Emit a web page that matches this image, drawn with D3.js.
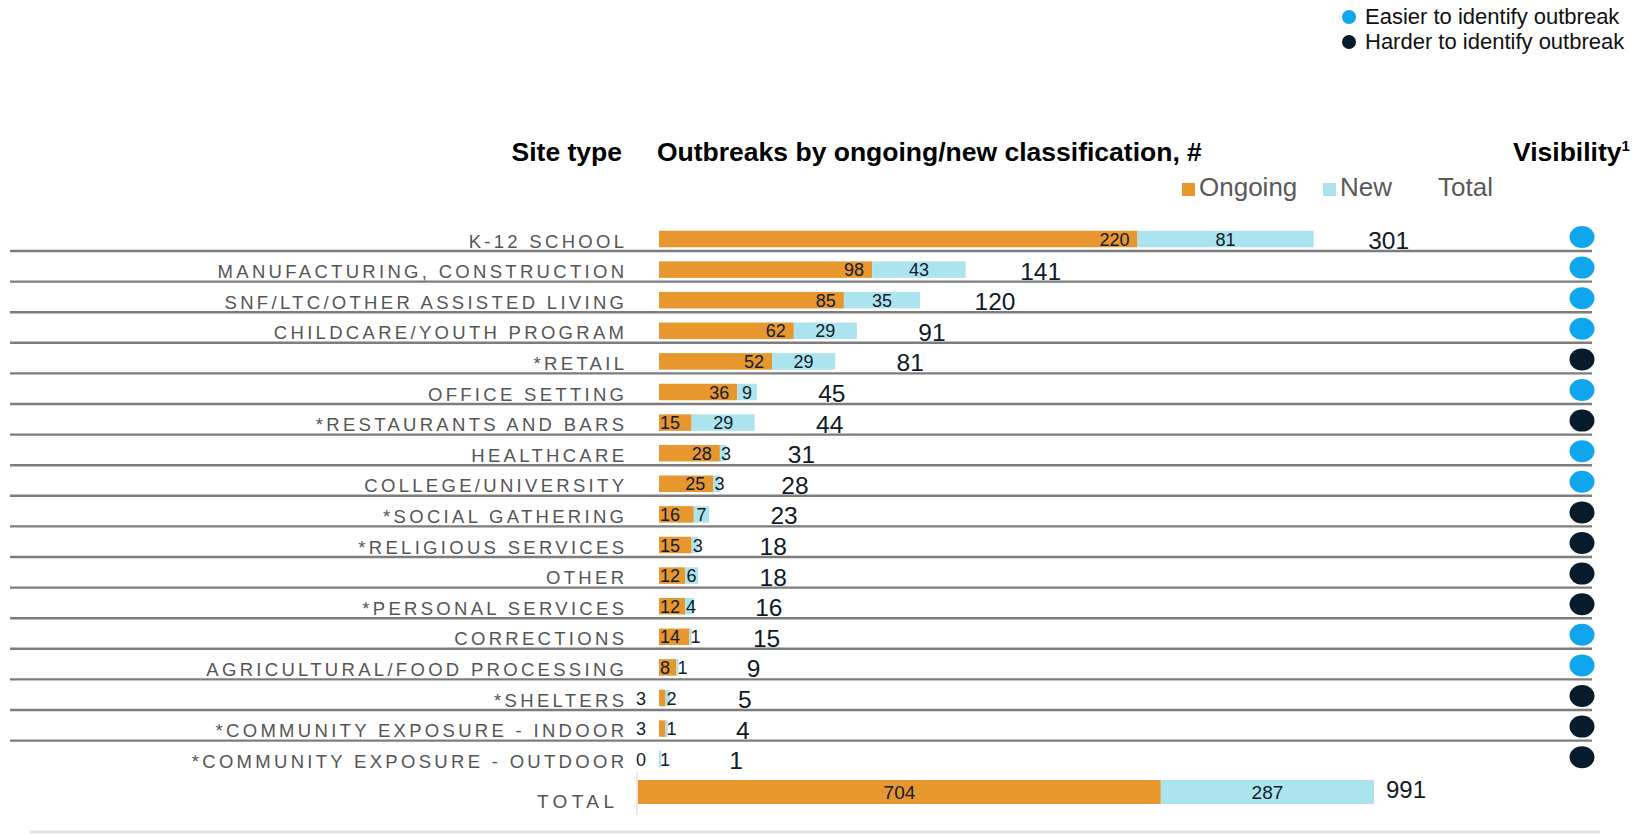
<!DOCTYPE html>
<html lang="en">
<head>
<meta charset="utf-8">
<title>Outbreaks by site type</title>
<script src="https://cdn.jsdelivr.net/npm/d3@7"></script>
<style>
  body { margin: 0; background: #fff; }
  svg { display: block; font-family: "Liberation Sans", Arial, Helvetica, sans-serif; }
</style>
</head>
<body>
<script>
// data
var sites = [
  "K-12 SCHOOL", "MANUFACTURING, CONSTRUCTION", "SNF/LTC/OTHER ASSISTED LIVING",
  "CHILDCARE/YOUTH PROGRAM", "*RETAIL", "OFFICE SETTING", "*RESTAURANTS AND BARS",
  "HEALTHCARE", "COLLEGE/UNIVERSITY", "*SOCIAL GATHERING", "*RELIGIOUS SERVICES",
  "OTHER", "*PERSONAL SERVICES", "CORRECTIONS", "AGRICULTURAL/FOOD PROCESSING",
  "*SHELTERS", "*COMMUNITY EXPOSURE - INDOOR", "*COMMUNITY EXPOSURE - OUTDOOR"
];
var ongoing = [220, 98, 85, 62, 52, 36, 15, 28, 25, 16, 15, 12, 12, 14, 8, 3, 3, 0];
var newer   = [81, 43, 35, 29, 29, 9, 29, 3, 3, 7, 3, 6, 4, 1, 1, 2, 1, 1];
var totals  = [301, 141, 120, 91, 81, 45, 44, 31, 28, 23, 18, 18, 16, 15, 9, 5, 4, 1];
var visibility = ["easier", "easier", "easier", "easier", "harder", "easier", "harder",
  "easier", "easier", "harder", "harder", "harder", "harder", "easier", "easier",
  "harder", "harder", "harder"];
var legendKeys = ["Ongoing", "New", "Total"];
var visKeys = ["Easier to identify outbreak", "Harder to identify outbreak"];

var w = 1632, h = 835;
var orange = "#e8972f", blue = "#abe4ee";
var visColor = { easier: "#10a6ee", harder: "#061b2c" };
var numColor = "#0f1b28";

var rows = sites.map(function(s, i) {
  return { site: s, ongoing: ongoing[i], newer: newer[i], total: totals[i], vis: visibility[i] };
});

var svg = d3.select("body").append("svg")
  .attr("width", w)
  .attr("height", h);

// scales
var x = d3.scaleLinear().domain([0, 100]).range([659, 659 + 217.5]);
var y = d3.scaleBand().domain(sites)
  .range([223.7, 223.7 + 30.6 * sites.length])
  .paddingInner(0.46).paddingOuter(0.23);
var bh = y.bandwidth();
function cy(s) { return y(s) + bh / 2; }

// top-right visibility legend
var vl = svg.append("g");
visKeys.forEach(function(k, i) {
  vl.append("circle").attr("cx", 1349).attr("cy", 17 + i * 25).attr("r", 7)
    .attr("fill", i === 0 ? visColor.easier : visColor.harder);
  vl.append("text").attr("x", 1365).attr("y", 24 + i * 25)
    .attr("font-size", 22).attr("fill", "#111").text(k);
});

// headers
svg.append("text").attr("x", 622).attr("y", 161).attr("text-anchor", "end")
  .attr("font-size", 26.5).attr("font-weight", "bold").text("Site type");
svg.append("text").attr("x", 657).attr("y", 161)
  .attr("font-size", 26.5).attr("font-weight", "bold").text("Outbreaks by ongoing/new classification, #");
var vis = svg.append("text").attr("x", 1513).attr("y", 161)
  .attr("font-size", 26.5).attr("font-weight", "bold");
vis.append("tspan").text("Visibility");
vis.append("tspan").attr("font-size", 15).attr("dy", -10).text("1");

// series legend
var legX = [1182, 1323, 1438];
legendKeys.forEach(function(k, i) {
  if (i < 2) {
    svg.append("rect").attr("x", legX[i]).attr("y", 183).attr("width", 13).attr("height", 13)
      .attr("fill", i === 0 ? orange : blue);
  }
  svg.append("text").attr("x", i < 2 ? legX[i] + 17 : legX[i]).attr("y", 196)
    .attr("font-size", 26).attr("fill", "#595959").text(k);
});

// separators
svg.selectAll("line.sep")
  .data(rows.slice(0, rows.length - 1))
  .enter()
  .append("line")
  .attr("class", "sep")
  .attr("x1", 10).attr("x2", 1592)
  .attr("y1", function(d) { return cy(d.site) + 12; })
  .attr("y2", function(d) { return cy(d.site) + 12; })
  .attr("stroke", "#7d7d7d").attr("stroke-width", 2.4);

// site labels
svg.selectAll("text.site")
  .data(rows)
  .enter()
  .append("text")
  .attr("class", "site")
  .attr("x", 624 + 3.3)
  .attr("y", function(d) { return cy(d.site) + 8.5; })
  .attr("text-anchor", "end")
  .attr("font-size", 18.5)
  .attr("letter-spacing", 3.3)
  .attr("fill", "#555")
  .text(function(d) { return d.site; });

// bars
svg.selectAll("rect.ong")
  .data(rows)
  .enter()
  .append("rect")
  .attr("class", "ong")
  .attr("x", x(0))
  .attr("y", function(d) { return y(d.site); })
  .attr("width", function(d) { return x(d.ongoing) - x(0); })
  .attr("height", bh)
  .attr("fill", orange);

svg.selectAll("rect.new")
  .data(rows)
  .enter()
  .append("rect")
  .attr("class", "new")
  .attr("x", function(d) { return x(d.ongoing); })
  .attr("y", function(d) { return y(d.site); })
  .attr("width", function(d) { return x(d.ongoing + d.newer) - x(d.ongoing); })
  .attr("height", bh)
  .attr("fill", blue);

// ongoing value labels
svg.selectAll("text.ongv")
  .data(rows)
  .enter()
  .append("text")
  .attr("class", "ongv")
  .attr("x", function(d) {
    var bw = x(d.ongoing) - x(0);
    if (d.ongoing < 5) return x(0) - 13;
    if (bw < 40) return x(0) + 1;
    return x(d.ongoing) - 8;
  })
  .attr("text-anchor", function(d) {
    var bw = x(d.ongoing) - x(0);
    return (d.ongoing >= 5 && bw < 40) ? "start" : "end";
  })
  .attr("y", function(d) { return cy(d.site) + 6.5; })
  .attr("font-size", 18)
  .attr("fill", numColor)
  .text(function(d) { return d.ongoing; });

// new value labels
svg.selectAll("text.newv")
  .data(rows)
  .enter()
  .append("text")
  .attr("class", "newv")
  .attr("x", function(d) {
    var bw = x(d.ongoing + d.newer) - x(d.ongoing);
    if (bw > 12) return (x(d.ongoing) + x(d.ongoing + d.newer)) / 2;
    return x(d.ongoing) + 1;
  })
  .attr("text-anchor", function(d) {
    var bw = x(d.ongoing + d.newer) - x(d.ongoing);
    return bw > 12 ? "middle" : "start";
  })
  .attr("y", function(d) { return cy(d.site) + 6.5; })
  .attr("font-size", 18)
  .attr("fill", numColor)
  .text(function(d) { return d.newer; });

// totals
svg.selectAll("text.tot")
  .data(rows)
  .enter()
  .append("text")
  .attr("class", "tot")
  .attr("x", function(d) { return x(d.total) + 75; })
  .attr("y", function(d) { return cy(d.site) + 10; })
  .attr("text-anchor", "middle")
  .attr("font-size", 24.5)
  .attr("fill", numColor)
  .text(function(d) { return d.total; });

// visibility dots
svg.selectAll("ellipse.vis")
  .data(rows)
  .enter()
  .append("ellipse")
  .attr("class", "vis")
  .attr("cx", 1582)
  .attr("cy", function(d) { return cy(d.site) - 2; })
  .attr("rx", 12.5).attr("ry", 11)
  .attr("fill", function(d) { return visColor[d.vis]; });

// total row
var sumOng = d3.sum(ongoing), sumNew = d3.sum(newer), sumAll = sumOng + sumNew;
var xt = d3.scaleLinear().domain([0, sumAll]).range([638, 1374]);
var ty = 780, th = 24;

svg.append("line").attr("x1", 637).attr("x2", 637).attr("y1", 772).attr("y2", 815)
  .attr("stroke", "#d4d4d4").attr("stroke-width", 1);
svg.append("rect").attr("x", xt(0)).attr("y", ty).attr("width", xt(sumOng) - xt(0)).attr("height", th)
  .attr("fill", orange);
svg.append("rect").attr("x", xt(sumOng)).attr("y", ty).attr("width", xt(sumAll) - xt(sumOng)).attr("height", th)
  .attr("fill", blue);
svg.append("text").attr("x", (xt(0) + xt(sumOng)) / 2).attr("y", ty + th / 2 + 7)
  .attr("text-anchor", "middle").attr("font-size", 19).attr("fill", numColor).text(sumOng);
svg.append("text").attr("x", (xt(sumOng) + xt(sumAll)) / 2).attr("y", ty + th / 2 + 7)
  .attr("text-anchor", "middle").attr("font-size", 19).attr("fill", numColor).text(sumNew);
svg.append("text").attr("x", xt(sumAll) + 12).attr("y", ty + th / 2 + 6)
  .attr("font-size", 24).attr("fill", numColor).text(sumAll);
svg.append("text").attr("x", 614 + 4.4).attr("y", 808).attr("text-anchor", "end")
  .attr("font-size", 19).attr("letter-spacing", 4.4).attr("fill", "#555").text("TOTAL");

// bottom rule
svg.append("line").attr("x1", 30).attr("x2", 1600).attr("y1", 832).attr("y2", 832)
  .attr("stroke", "#e2e2e2").attr("stroke-width", 3);
</script>
</body>
</html>
